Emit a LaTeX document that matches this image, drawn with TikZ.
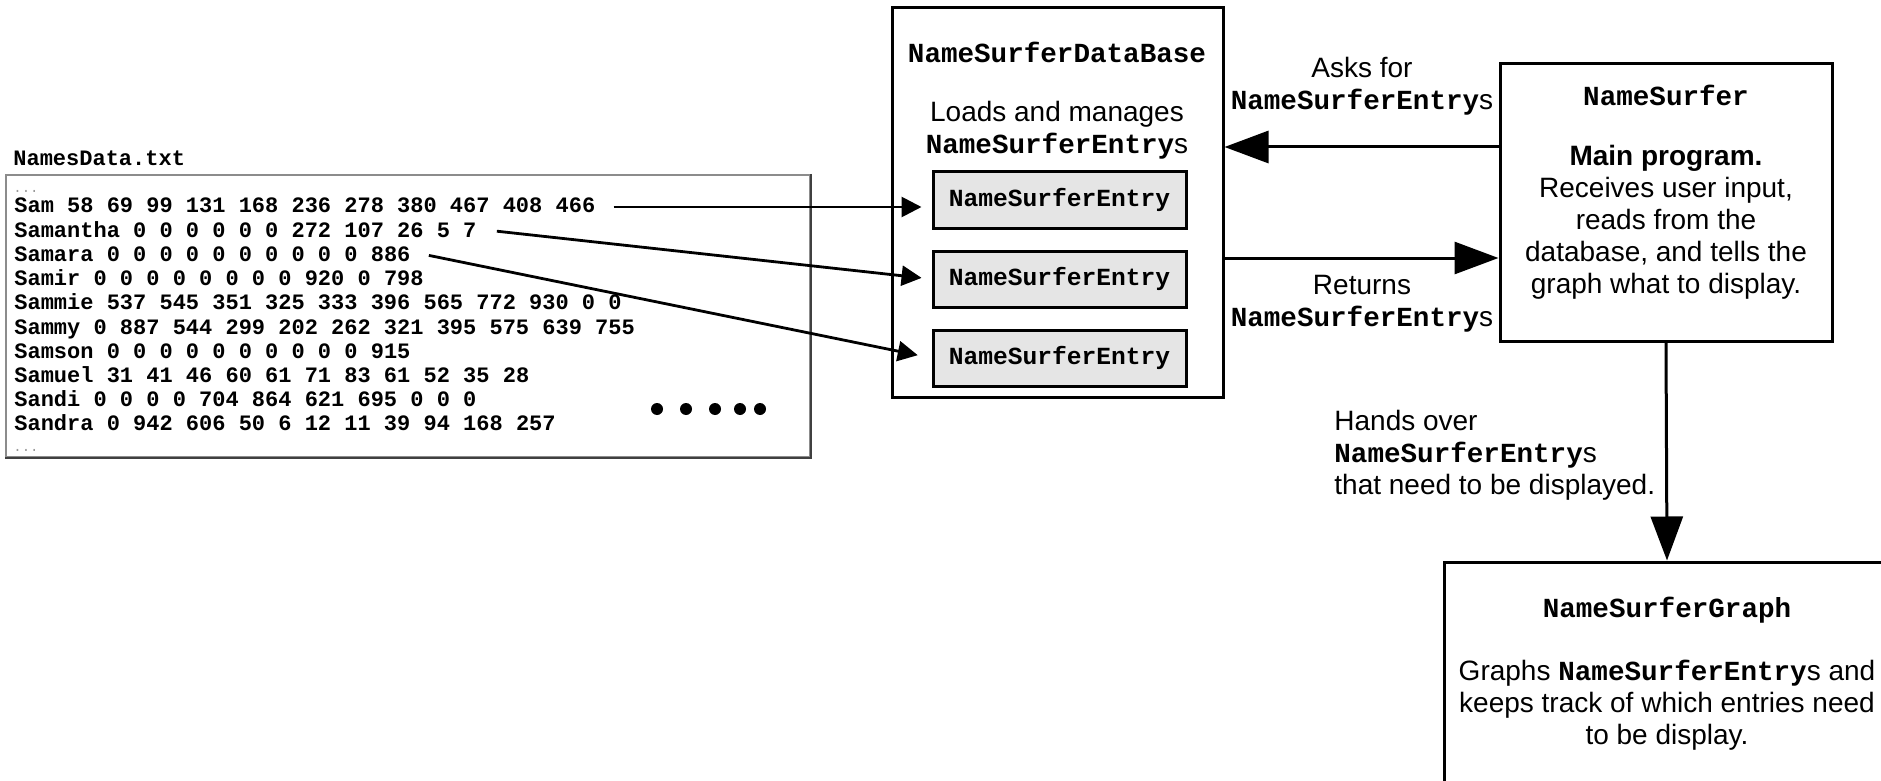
\documentclass[tikz,border=0pt]{standalone}
\usepackage{fontspec}
\setmainfont{Liberation Sans}
\setmonofont{Liberation Mono}
\usetikzlibrary{arrows.meta,positioning}
\definecolor{fileedge}{gray}{0.55}
\definecolor{fileshade}{gray}{0.25}
\definecolor{entryfill}{gray}{0.9}
\newcommand{\nsfont}{\fontsize{14}{16}\selectfont}
\newcommand{\nstitle}{\fontsize{13.8}{16}\selectfont\ttfamily\bfseries}
\newcommand{\nsentry}{\fontsize{12.3}{14}\selectfont\ttfamily\bfseries}
\newcommand{\nsdata}{\fontsize{11}{12}\selectfont\ttfamily\bfseries}
\newcommand{\ncls}[1]{{\fontsize{13.8}{16}\selectfont\ttfamily\bfseries #1}}
\newcommand{\ents}{\ncls{NameSurferEntry}s}
\tikzset{
  surfer/.style={font=\nsfont, x=0.5pt, y=-0.5pt},
  % a class of the program
  classbox/.style={draw=black, line width=1.5pt, rectangle, inner sep=0pt},
  % the name of a class, at the head of its box
  classname/.style={font=\nstitle, inner sep=0pt},
  % one entry held by the database
  entrybox/.style={draw=black, line width=1.5pt, fill=entryfill, inner sep=0pt,
                   minimum width=126.5pt, minimum height=28pt, font=\nsentry},
  % the text file
  filebox/.style={draw=fileedge, line width=1pt, inner sep=0pt},
  fshade/.style={draw=fileshade, line width=1.2pt},
  datarow/.style={font=\nsdata, anchor=west, inner sep=0pt,
                  text height=8pt, text depth=2pt},
  gapdots/.style={font=\fontsize{7}{8}\selectfont\ttfamily, text=black!40,
                  anchor=west, inner sep=0pt},
  % calls between the classes
  flow/.style={draw=black, line width=1.5pt,
               -{Triangle[length=22pt,width=16pt]}},
  % a line of the file read into an entry
  feed/.style={draw=black, line width=1.4pt,
               -{Triangle[length=10pt,width=10pt]}},
  note/.style={align=center, inner sep=0pt},
}

\begin{document}
\begin{tikzpicture}[surfer]
  \useasboundingbox (0,0) rectangle (1881,781);

  % the data file
  \node[datarow] (fname) at (13,160) {NamesData.txt};
  \node[filebox, minimum width=402pt, minimum height=141pt] (file) at (408,316) {};
  \draw[fshade] (file.north east) -- (file.south east) -- (file.south west);
  \node[gapdots] (topgap) at (13,191) {...};
  \node[gapdots] (botgap) at (13,450) {...};
  \foreach \txt [count=\i] in {Sam 58 69 99 131 168 236 278 380 467 408 466,
      Samantha 0 0 0 0 0 0 272 107 26 5 7,
      Samara 0 0 0 0 0 0 0 0 0 0 886,
      Samir 0 0 0 0 0 0 0 0 920 0 798,
      Sammie 537 545 351 325 333 396 565 772 930 0 0,
      Sammy 0 887 544 299 202 262 321 395 575 639 755,
      Samson 0 0 0 0 0 0 0 0 0 0 915,
      Samuel 31 41 46 60 61 71 83 61 52 35 28,
      Sandi 0 0 0 0 704 864 621 695 0 0 0,
      Sandra 0 942 606 50 6 12 11 39 94 168 257}
    \node[datarow] (row\i) at (14,{207+24.2*(\i-1)}) {\txt};
  \foreach \dx in {657,686,715,740,760}
    \fill (\dx,409) circle (3pt);

  % the database and its entries
  \node[classbox, minimum width=165.5pt, minimum height=194.5pt] (db) at (1057.5,202.5) {};
  \node[classname] (dbname) at (1057,52) {NameSurferDataBase};
  \node[note] (dbnote) at (1057,130) {Loads and manages\\\ents};
  \node[entrybox] (e1) at (1059.5,200) {NameSurferEntry};
  \node[entrybox, below=10pt of e1] (e2) {NameSurferEntry};
  \node[entrybox, below=10pt of e2] (e3) {NameSurferEntry};

  % the main program
  \node[classbox, minimum width=166pt, minimum height=138.5pt] (ns) at (1666,202.5) {};
  \node[classname] (nsname) at (1666,95) {NameSurfer};
  \node[note] (nsnote) at (1666,222) {\textbf{Main program.}\\Receives user input,\\reads from the\\database, and tells the\\graph what to display.};

  % the graph
  \node[classbox, minimum width=223pt, minimum height=120pt] (graph) at (1667,682) {};
  \node[classname] (grname) at (1667,610) {NameSurferGraph};
  \node[note] (grnote) at (1667,705) {Graphs \ents{} and\\keeps track of which entries need\\to be display.};

  % file lines into entries
  \draw[feed, shorten >=5pt] ([xshift=9pt]row1.east) -- (row1 -| e1.west);
  \draw[feed, shorten >=5pt] ([xshift=10pt]row2.east) -- (e2.west);
  \draw[feed, shorten >=7pt] ([xshift=9pt]row3.east) -- (e3.west);

  % calls
  \coordinate (askR) at ([yshift=27.75pt]ns.west);
  \coordinate (retL) at ([yshift=-27.75pt]ns.west -| db.east);
  \draw[flow] (askR) -- (askR -| db.east);
  \draw[flow] (retL) -- (retL -| ns.west);
  \node[note] (asks) at (1362,86) {Asks for\\\ents};
  \node[note] (rets) at (1362,304) {Returns\\\ents};
  \draw[flow] (ns.south) -- (graph.north);
  \node[note, align=left, anchor=west] (hands) at (1334,455) {Hands over\\\ents\\that need to be displayed.};
\end{tikzpicture}
\end{document}
